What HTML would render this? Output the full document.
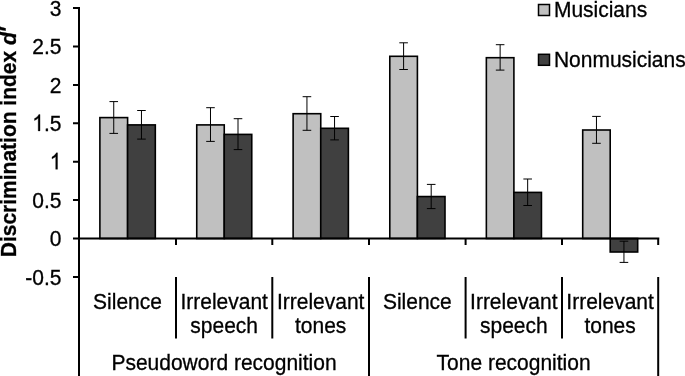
<!DOCTYPE html><html><head><meta charset="utf-8"><style>html,body{margin:0;padding:0;background:#fff;overflow:hidden}svg{display:block;will-change:transform}text{font-family:"Liberation Sans",sans-serif;fill:#000;stroke:#000;stroke-width:0.3px}</style></head><body>
<svg width="685" height="376" viewBox="0 0 685 376">
<rect x="99.89" y="117.60" width="27.71" height="120.90" fill="#c0c0c0" stroke="#000" stroke-width="1.6"/>
<rect x="127.60" y="124.90" width="27.71" height="113.60" fill="#404040" stroke="#000" stroke-width="1.6"/>
<rect x="196.74" y="124.90" width="27.51" height="113.60" fill="#c0c0c0" stroke="#000" stroke-width="1.6"/>
<rect x="224.25" y="134.40" width="27.51" height="104.10" fill="#404040" stroke="#000" stroke-width="1.6"/>
<rect x="293.12" y="113.70" width="27.63" height="124.80" fill="#c0c0c0" stroke="#000" stroke-width="1.6"/>
<rect x="320.75" y="128.30" width="27.63" height="110.20" fill="#404040" stroke="#000" stroke-width="1.6"/>
<rect x="389.80" y="56.30" width="27.60" height="182.20" fill="#c0c0c0" stroke="#000" stroke-width="1.6"/>
<rect x="417.40" y="196.55" width="27.60" height="41.95" fill="#404040" stroke="#000" stroke-width="1.6"/>
<rect x="486.36" y="57.70" width="27.54" height="180.80" fill="#c0c0c0" stroke="#000" stroke-width="1.6"/>
<rect x="513.90" y="192.40" width="27.54" height="46.10" fill="#404040" stroke="#000" stroke-width="1.6"/>
<rect x="582.71" y="130.00" width="27.49" height="108.50" fill="#c0c0c0" stroke="#000" stroke-width="1.6"/>
<rect x="610.20" y="238.50" width="27.49" height="13.50" fill="#404040" stroke="#000" stroke-width="1.6"/>
<path d="M113.74 101.60V133.40M109.44 101.60H118.04M109.44 133.40H118.04" stroke="#000" stroke-width="1.0" fill="none"/>
<path d="M141.46 110.50V139.10M137.16 110.50H145.76M137.16 139.10H145.76" stroke="#000" stroke-width="1.0" fill="none"/>
<path d="M210.49 107.70V141.40M206.19 107.70H214.79M206.19 141.40H214.79" stroke="#000" stroke-width="1.0" fill="none"/>
<path d="M238.01 118.70V149.60M233.71 118.70H242.31M233.71 149.60H242.31" stroke="#000" stroke-width="1.0" fill="none"/>
<path d="M306.94 96.70V130.30M302.64 96.70H311.24M302.64 130.30H311.24" stroke="#000" stroke-width="1.0" fill="none"/>
<path d="M334.56 116.50V139.90M330.26 116.50H338.86M330.26 139.90H338.86" stroke="#000" stroke-width="1.0" fill="none"/>
<path d="M403.60 42.80V69.50M399.30 42.80H407.90M399.30 69.50H407.90" stroke="#000" stroke-width="1.0" fill="none"/>
<path d="M431.20 184.40V208.60M426.90 184.40H435.50M426.90 208.60H435.50" stroke="#000" stroke-width="1.0" fill="none"/>
<path d="M500.13 44.70V70.10M495.83 44.70H504.43M495.83 70.10H504.43" stroke="#000" stroke-width="1.0" fill="none"/>
<path d="M527.67 179.00V205.50M523.37 179.00H531.97M523.37 205.50H531.97" stroke="#000" stroke-width="1.0" fill="none"/>
<path d="M596.46 116.40V143.30M592.16 116.40H600.76M592.16 143.30H600.76" stroke="#000" stroke-width="1.0" fill="none"/>
<path d="M623.94 241.20V262.40M619.64 241.20H628.24M619.64 262.40H628.24" stroke="#000" stroke-width="1.0" fill="none"/>
<path d="M79.0 7V376M73 8.10H79.0M73 46.50H79.0M73 84.90H79.0M73 123.30H79.0M73 161.70H79.0M73 200.10H79.0M73 238.50H79.0M73 276.90H79.0M79.0 238.5H659.30M176.00 238.5V245M272.30 238.5V245M369.00 238.5V245M465.60 238.5V245M562.00 238.5V245M658.20 238.5V245M176.00 277V338.6M272.30 277V338.6M369.00 277V376M465.60 277V338.6M562.00 277V338.6M658.20 277V376" stroke="#000" stroke-width="2" fill="none" stroke-linecap="butt"/>
<text transform="translate(61.4,15.70) scale(1,1.09)" font-size="21" text-anchor="end">3</text>
<text transform="translate(61.4,54.10) scale(1,1.09)" font-size="21" text-anchor="end">2.5</text>
<text transform="translate(61.4,92.50) scale(1,1.09)" font-size="21" text-anchor="end">2</text>
<path transform="translate(32.21,130.90) scale(0.01025,-0.01118)" d="M763 0H583V1147Q518 1085 412.5 1023.0Q307 961 223 930V1104Q374 1175 487.0 1276.0Q600 1377 647 1472H763Z" fill="#000" stroke="#000" stroke-width="29.3"/>
<text transform="translate(61.4,130.90) scale(1,1.09)" font-size="21" text-anchor="end">.5</text>
<path transform="translate(49.72,169.30) scale(0.01025,-0.01118)" d="M763 0H583V1147Q518 1085 412.5 1023.0Q307 961 223 930V1104Q374 1175 487.0 1276.0Q600 1377 647 1472H763Z" fill="#000" stroke="#000" stroke-width="29.3"/>
<text transform="translate(61.4,207.70) scale(1,1.09)" font-size="21" text-anchor="end">0.5</text>
<text transform="translate(61.4,246.10) scale(1,1.09)" font-size="21" text-anchor="end">0</text>
<text transform="translate(61.4,284.50) scale(1,1.09)" font-size="21" text-anchor="end">-0.5</text>
<text transform="translate(127.50,308.7) scale(1,1.09)" font-size="21" text-anchor="middle">Silence</text>
<text transform="translate(224.15,308.7) scale(1,1.09)" font-size="21" text-anchor="middle">Irrelevant</text>
<text transform="translate(224.15,332.5) scale(1,1.09)" font-size="21" text-anchor="middle">speech</text>
<text transform="translate(320.65,308.7) scale(1,1.09)" font-size="21" text-anchor="middle">Irrelevant</text>
<text transform="translate(320.65,332.5) scale(1,1.09)" font-size="21" text-anchor="middle">tones</text>
<text transform="translate(417.30,308.7) scale(1,1.09)" font-size="21" text-anchor="middle">Silence</text>
<text transform="translate(513.80,308.7) scale(1,1.09)" font-size="21" text-anchor="middle">Irrelevant</text>
<text transform="translate(513.80,332.5) scale(1,1.09)" font-size="21" text-anchor="middle">speech</text>
<text transform="translate(610.10,308.7) scale(1,1.09)" font-size="21" text-anchor="middle">Irrelevant</text>
<text transform="translate(610.10,332.5) scale(1,1.09)" font-size="21" text-anchor="middle">tones</text>
<text transform="translate(224.00,370) scale(1,1.09)" font-size="21" text-anchor="middle">Pseudoword recognition</text>
<text transform="translate(513.60,370) scale(1,1.09)" font-size="21" text-anchor="middle">Tone recognition</text>
<rect x="538.5" y="4.5" width="11" height="11" fill="#c0c0c0" stroke="#000" stroke-width="1.5"/>
<rect x="538.5" y="54.3" width="11" height="11" fill="#404040" stroke="#000" stroke-width="1.5"/>
<text transform="translate(553.9,16.6) scale(1,1.09)" font-size="21">Musicians</text>
<text transform="translate(553.9,66.6) scale(1,1.09)" font-size="21">Nonmusicians</text>
<text transform="translate(15.5,142.4) rotate(-90) scale(1,1.04)" font-size="21" font-weight="bold" text-anchor="middle">Discrimination index <tspan font-style="italic">d<tspan dy="-0.7" dx="-0.4">&#8242;</tspan></tspan></text>
</svg></body></html>
